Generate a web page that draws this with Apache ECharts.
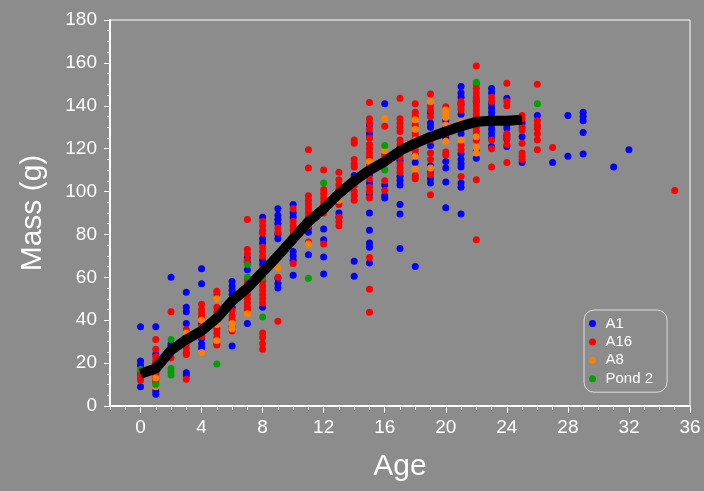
<!DOCTYPE html>
<html>
<head>
<meta charset="utf-8">
<script src="https://cdn.jsdelivr.net/npm/echarts@6/dist/echarts.min.js"></script>
<style>
  html, body { margin: 0; padding: 0; background: #8c8c8c; }
  #chart { width: 704px; height: 491px; }
</style>
</head>
<body>
<div id="chart"></div>
<script>
// Series values grouped as [age, [masses...]]
const A1 = [
  [0, [37, 21, 19, 15, 9]],
  [1, [37, 24, 20, 16, 7, 5.5]],
  [2, [60, 29, 28]],
  [3, [53, 46, 44, 38.5, 15.5, 14.5]],
  [4, [64, 57, 38.5, 31.5, 29, 27]],
  [6, [58, 56, 54, 52, 50, 48, 46, 28]],
  [7, [69, 67, 63.5, 55, 38.5]],
  [8, [88, 78, 76, 68, 66, 46]],
  [9, [92, 89, 87, 85, 80, 78, 59.5, 57, 55]],
  [10, [94, 90, 88, 72, 70, 68, 61]],
  [11, [83, 81, 70.5]],
  [12, [82.5, 77.5, 69.5, 61.5]],
  [13, [90, 88]],
  [14, [107.5, 67.5, 60.5]],
  [15, [131, 127, 108, 104, 99, 90, 82, 76, 74, 66.7]],
  [16, [141, 103, 98, 97]],
  [17, [114.5, 107, 105, 103, 94, 89.5, 73.5]],
  [18, [117, 113.5, 65]],
  [19, [137, 132, 130, 121.5, 112, 109, 106, 104]],
  [20, [133, 130, 125, 114, 111, 104.5, 92.5]],
  [21, [149, 146, 144, 140.5, 136, 129, 127, 117.5, 115, 113, 111.5, 104, 102, 89.5]],
  [22, [142, 119, 115.5]],
  [23, [148, 146, 141, 139, 137, 135, 133, 131, 129, 127, 125, 121]],
  [24, [143.5, 131, 129.5, 126, 124.5, 121]],
  [25, [132, 125.5, 113.5]],
  [26, [135.5]],
  [27, [113.5]],
  [28, [135.5, 116.5]],
  [29, [137, 135, 133, 127.5, 117.5]],
  [31, [111.5]],
  [32, [119.5]]
];
const A16 = [
  [0, [16, 14, 13, 12]],
  [1, [31, 26.5, 23, 21, 19, 18, 17, 15, 14, 13, 12, 11]],
  [2, [44, 22.5]],
  [3, [35.5, 33, 31, 29, 27, 25, 24, 12.5]],
  [4, [47.5, 45, 43, 41.5, 37, 35, 33.5, 32.5]],
  [5, [53.5, 52, 46, 44, 42, 36, 34, 32, 29, 28.5]],
  [6, [44.5, 42, 40, 37, 35]],
  [7, [87, 73, 71, 68, 59, 57, 55, 52, 50, 48, 46, 45]],
  [8, [86, 84, 82, 80.5, 74, 72, 70, 64, 62, 58, 56, 54, 52, 50, 48, 34, 32, 29, 26.5]],
  [9, [83, 81, 60, 39.5]],
  [10, [92, 86, 84, 82, 80, 66.5]],
  [11, [119.5, 111, 98, 96, 94, 92, 90, 88, 86, 84, 76.5]],
  [12, [110, 101, 99, 97, 95, 93, 91, 90, 75.5]],
  [13, [109, 105.5, 103, 101, 98, 94, 88, 86, 84]],
  [14, [124, 122.5, 115, 113, 111.5, 105, 103, 100, 98, 96]],
  [15, [141.5, 134, 132, 129, 125, 122, 120, 118, 116, 112, 110, 106, 102, 100, 97, 69.3, 54.5, 43.7]],
  [16, [130.5, 117, 105, 100.5]],
  [17, [143.5, 134, 132, 130, 128, 124, 122, 120, 118, 116, 113, 111, 109]],
  [18, [141, 137, 135, 131, 127, 125, 121, 119, 107.5, 106]],
  [19, [145.5, 140, 138, 135, 126, 124, 118, 115, 110, 108, 98.5]],
  [20, [139.5, 127, 118.5, 117]],
  [21, [142, 141, 139, 138, 121.5, 119.5, 107]],
  [22, [158.5, 150, 148, 146, 144, 142.5, 140, 138, 136, 134, 132, 130, 128, 126, 124, 105.5, 77.5]],
  [23, [144, 142, 124, 120, 111.5]],
  [24, [150.5, 142, 140, 127, 125, 122, 113.5]],
  [25, [135.5, 134, 130, 128.5, 122.5, 118, 116.5, 115]],
  [26, [150, 133, 131, 129.5, 127, 124, 119.5]],
  [27, [120.5]],
  [35, [100.5]]
];
const A8 = [
  [1, [13, 9]],
  [3, [34]],
  [4, [40, 25]],
  [5, [50, 39.5, 38, 30.5]],
  [6, [38.5, 36]],
  [7, [43]],
  [9, [64.5]],
  [11, [75.5]],
  [13, [96]],
  [15, [114, 111]],
  [16, [134, 119]],
  [18, [133.5, 129, 124, 116.5, 110.5]],
  [19, [142, 111]],
  [20, [138, 136, 134.5, 131, 123.5]],
  [21, [132.5, 124]],
  [22, [125.5, 120.5, 118]]
];
const POND2 = [
  [0, [17]],
  [1, [10]],
  [2, [31, 17.5, 16, 14.5]],
  [5, [19.6]],
  [7, [66, 60]],
  [8, [60, 41.5]],
  [11, [59.6]],
  [12, [104]],
  [16, [121.5, 110]],
  [22, [151]],
  [26, [141]]
];
// Mean growth curve
const LINE_AGES = [0, 1, 2, 3, 4, 5, 6, 7, 8, 9, 10, 11, 12, 13, 14, 15, 16, 17, 18, 19, 20, 21, 22, 23, 24, 25];
const LINE_MASS = [15, 17.5, 26, 31, 35, 41, 49, 55, 62.5, 70, 78, 86, 92, 99, 105, 110, 114, 119, 122.5, 125.5, 128, 130.5, 132.5, 133, 133, 133.5];
const X_TICKS = [0, 4, 8, 12, 16, 20, 24, 28, 32, 36];
const SERIES_NAMES = ['A1', 'A16', 'A8', 'Pond 2'];
const SERIES_COLORS = ['#0000ff', '#ff0000', '#ff8000', '#00a000'];

function flatten(groups) {
  const out = [];
  groups.forEach(([age, masses]) => masses.forEach(m => out.push([age, m])));
  return out;
}

const FONT = 'Liberation Sans, Arial, sans-serif';
const chart = echarts.init(document.getElementById('chart'));
const groups = [A1, A16, A8, POND2];

const scatterSeries = groups.map((g, i) => ({
  name: SERIES_NAMES[i],
  type: 'scatter',
  data: flatten(g),
  symbol: 'circle',
  symbolSize: 7,
  itemStyle: { color: SERIES_COLORS[i], opacity: 1 },
  z: 2
}));

chart.setOption({
  backgroundColor: '#8c8c8c',
  animation: false,
  textStyle: { fontFamily: FONT },
  grid: {
    left: 110, right: 14, top: 20, bottom: 85,
    show: true, backgroundColor: '#8c8c8c',
    borderColor: '#ffffff', borderWidth: 1
  },
  legend: {
    data: SERIES_NAMES,
    orient: 'vertical',
    left: 584, top: 310,
    icon: 'circle',
    itemWidth: 16, itemHeight: 7,
    itemGap: 3.4,
    padding: [6, 14, 6, 5],
    borderColor: '#dddddd', borderWidth: 1, borderRadius: 10,
    textStyle: { color: '#ffffff', fontSize: 15, lineHeight: 15, fontFamily: FONT }
  },
  xAxis: [
    {
      type: 'value', min: -2, max: 36, interval: 1,
      name: 'Age', nameLocation: 'middle', nameGap: 46,
      nameTextStyle: { color: '#ffffff', fontSize: 30, fontFamily: FONT },
      axisLine: { show: true, onZero: false, lineStyle: { color: '#ffffff', width: 2 } },
      axisTick: { show: true, length: 4, lineStyle: { color: '#ffffff', width: 1 } },
      axisLabel: {
        color: '#ffffff', fontSize: 19, margin: 12, fontFamily: FONT,
        formatter: v => (X_TICKS.indexOf(v) >= 0 ? String(v) : '')
      },
      splitLine: { show: false }
    },
    {
      type: 'value', min: -2, max: 36, position: 'bottom',
      axisLine: { show: false, onZero: false },
      axisTick: { show: true, length: 7, customValues: X_TICKS, lineStyle: { color: '#ffffff', width: 1 } },
      axisLabel: { show: false },
      splitLine: { show: false }
    }
  ],
  yAxis: {
    type: 'value', min: 0, max: 180, interval: 20,
    name: 'Mass (g)', nameLocation: 'middle', nameGap: 62,
    nameTextStyle: { color: '#ffffff', fontSize: 30, fontFamily: FONT },
    axisLine: { show: true, onZero: false, lineStyle: { color: '#ffffff', width: 2 } },
    axisTick: { show: true, length: 6, lineStyle: { color: '#ffffff', width: 1 } },
    minorTick: { show: true, splitNumber: 4, length: 3, lineStyle: { color: '#ffffff', width: 1 } },
    axisLabel: { color: '#ffffff', fontSize: 19, margin: 13, fontFamily: FONT },
    splitLine: { show: false },
    minorSplitLine: { show: false }
  },
  series: scatterSeries.concat([{
    name: 'mean',
    type: 'line',
    data: LINE_AGES.map((a, i) => [a, LINE_MASS[i]]),
    showSymbol: false,
    symbol: 'none',
    lineStyle: { color: '#000000', width: 10, cap: 'butt', join: 'round' },
    z: 5
  }])
});
</script>
</body>
</html>
